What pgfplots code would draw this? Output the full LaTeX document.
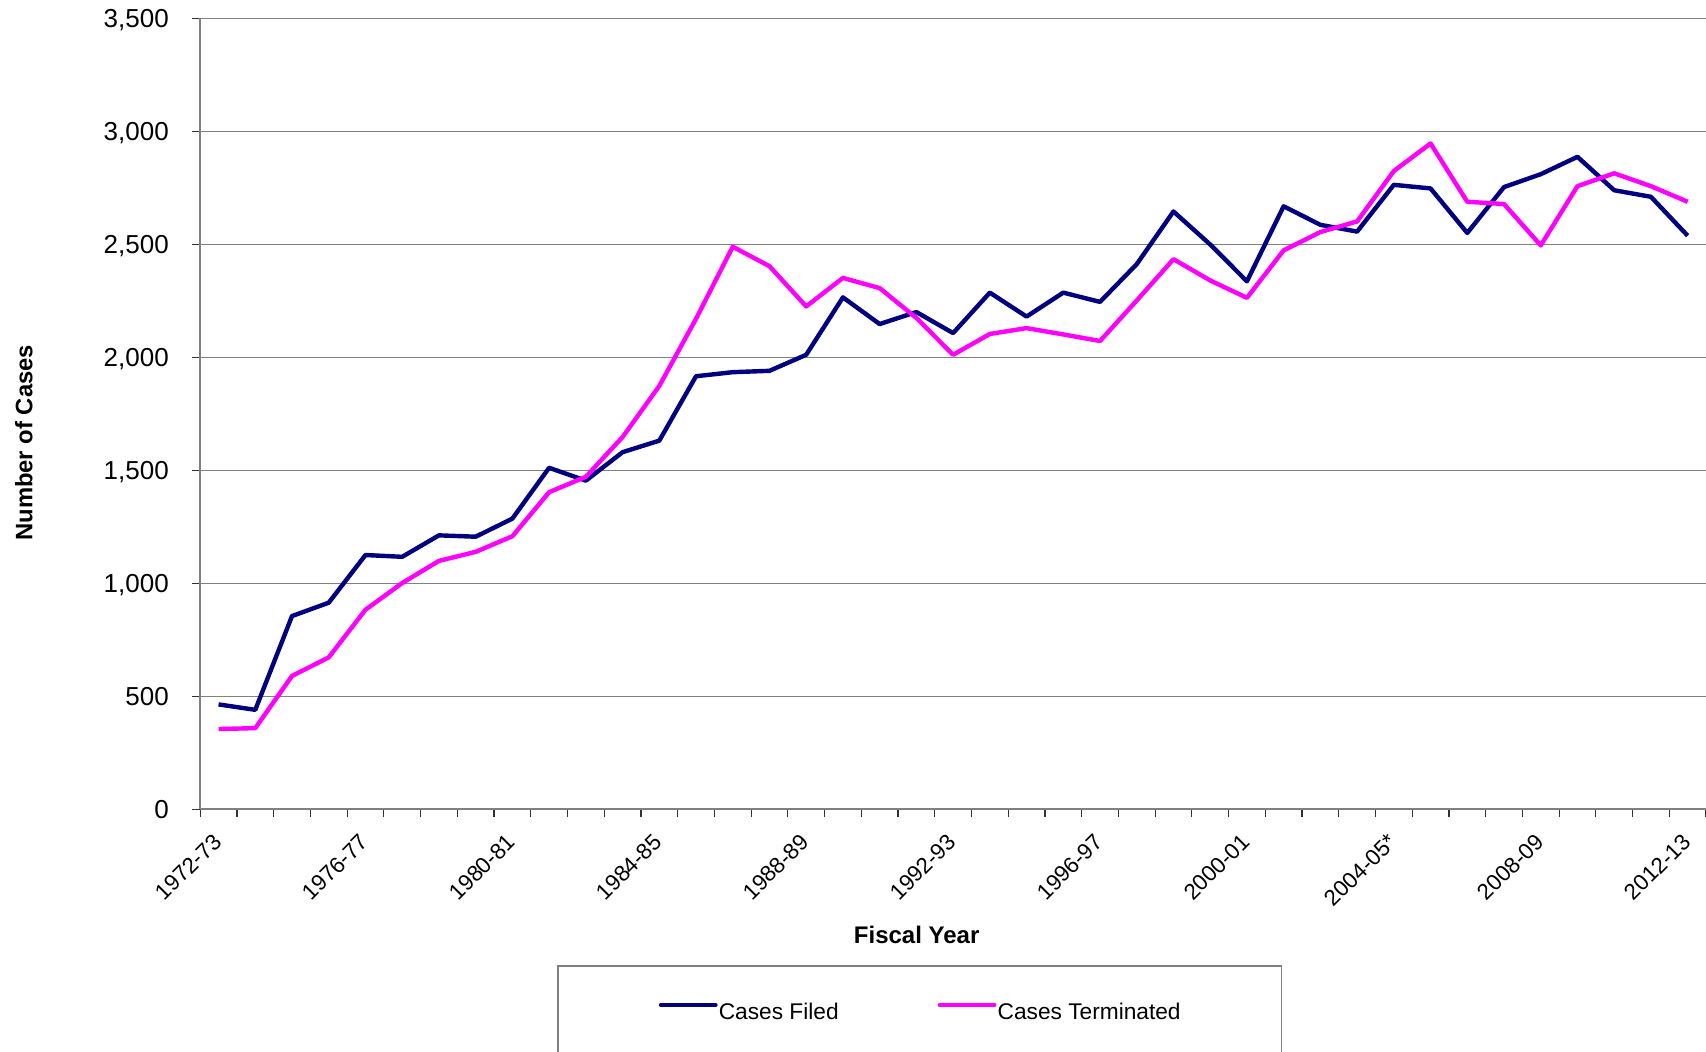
\documentclass[border=0pt]{standalone}
\usepackage{fontspec}
\setmainfont{Liberation Sans}
\usepackage{pgfplots}
\usepackage{pgfplotstable}
\pgfplotsset{compat=1.18}
\definecolor{filed}{HTML}{000080}
\definecolor{term}{HTML}{FF00FF}
\definecolor{gridgray}{HTML}{808080}

% fiscal years 1972-73 ... 2012-13, one row each
\pgfplotstableread{
x filed term
0 465 356
1 441 360
2 856 591
3 915 673
4 1126 884
5 1118 1002
6 1213 1100
7 1207 1140
8 1287 1209
9 1512 1404
10 1455 1472
11 1581 1648
12 1632 1874
13 1917 2171
14 1935 2490
15 1941 2404
16 2012 2226
17 2266 2352
18 2148 2307
19 2201 2175
20 2108 2012
21 2287 2104
22 2181 2130
23 2287 2102
24 2246 2073
25 2413 2252
26 2646 2435
27 2500 2341
28 2337 2264
29 2669 2474
30 2587 2555
31 2557 2602
32 2764 2825
33 2748 2947
34 2551 2689
35 2754 2679
36 2811 2496
37 2888 2758
38 2740 2815
39 2711 2758
40 2539 2689
}\casedata

\begin{document}
\begin{tikzpicture}
\path[use as bounding box] (-100.1pt,-121.25pt) rectangle (752.9pt,404.75pt);
\begin{axis}[
    width=752.9pt, height=395.5pt, scale only axis,
    xmin=-0.5, xmax=40.5, ymin=0, ymax=3500,
    axis lines=left,
    axis line style={-, draw=gridgray, line width=1pt},
    ytick={0,500,...,3500},
    xtick={0,4,...,40},
    xticklabels={1972-73,1976-77,1980-81,1984-85,1988-89,1992-93,1996-97,2000-01,2004-05*,2008-09,2012-13},
    minor xtick={-0.5,0.5,...,40.5},
    tick align=outside,
    major tick length=4pt, minor tick length=4pt,
    major x tick style={draw=none},
    tick style={draw=black!80, line width=0.6pt},
    ymajorgrids,
    grid style={draw=gridgray, line width=0.75pt},
    /pgf/number format/.cd, 1000 sep={,}, assume math mode=true, /pgfplots/.cd,
    yticklabel style={font=\fontsize{13}{15}\selectfont, anchor=east, inner sep=0pt, text height=9.3pt, text depth=0pt},
    yticklabel shift=11.5pt,
    xticklabel style={font=\fontsize{11.2}{13}\selectfont, xshift=-3.5pt, rotate=45, anchor=north east, inner sep=0pt, text height=8pt, text depth=0pt},
    xticklabel shift=7pt,
    xlabel={Fiscal Year},
    xlabel style={at={(axis description cs:0.4758,-0.1587)}, anchor=center, font=\fontsize{12}{14}\selectfont\bfseries},
    ylabel={Number of Cases},
    ylabel style={at={(axis description cs:-0.1171,0.4636)}, anchor=center, font=\fontsize{11.9}{14}\selectfont\bfseries},
    legend columns=2,
    legend style={at={(0.2370,-0.1966)}, anchor=north west, draw=gridgray, line width=0.75pt,
        inner xsep=50.5pt, inner ysep=18.5pt, font=\fontsize{11.35}{13}\selectfont,
        nodes={inner sep=0pt},
        /tikz/every odd column/.append style={column sep=0.6pt},
        /tikz/every even column/.append style={column sep=49.5pt}},
    legend image code/.code={\draw[#1, line cap=round] (0pt,4pt) -- (27.2pt,4pt);},
]
\addplot[filed, line width=2.2pt, line join=round] table[x=x, y=filed] {\casedata};
\addlegendentry{Cases Filed}
\addplot[term, line width=2.2pt, line join=round] table[x=x, y=term] {\casedata};
\addlegendentry{Cases Terminated}
\end{axis}
\end{tikzpicture}
\end{document}
